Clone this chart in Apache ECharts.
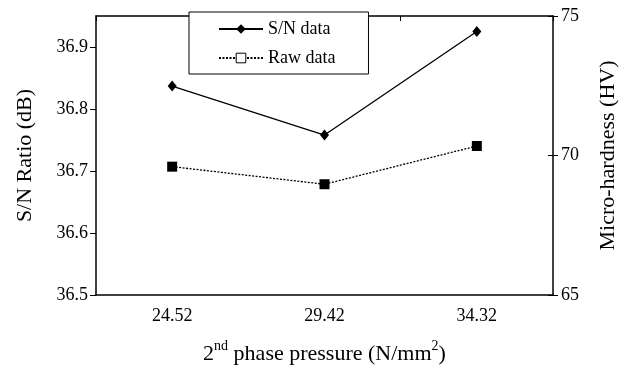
<!DOCTYPE html>
<html>
<head>
<meta charset="utf-8">
<script src="https://cdn.jsdelivr.net/npm/echarts@6/dist/echarts.min.js"></script>
<style>
  html, body { margin: 0; padding: 0; background: #fff; }
  #chart { width: 639px; height: 370px; }
</style>
</head>
<body>
<div id="chart"></div>
<script>
const pressures = ['24.52', '29.42', '34.32'];
const snData = [36.837, 36.758, 36.925];
const rawData = [69.6, 68.97, 70.34];
const leftTicks = [36.5, 36.6, 36.7, 36.8, 36.9];
const rightTicks = [65, 70, 75];

const font = 'Liberation Serif';
const chart = echarts.init(document.getElementById('chart'));

const option = {
  backgroundColor: '#fff',
  animation: false,
  textStyle: { fontFamily: font, color: '#000' },
  grid: { left: 96, right: 86, top: 16, bottom: 62 },
  legend: {
    orient: 'vertical',
    left: 189,
    top: 12,
    padding: [8, 33, 7, 29],
    itemWidth: 44,
    itemHeight: 12,
    itemGap: 11,
    backgroundColor: '#fff',
    borderColor: '#000',
    borderWidth: 1,
    textStyle: { fontFamily: font, fontSize: 18, color: '#000' },
    data: [
      { name: 'S/N data' },
      { name: 'Raw data', itemStyle: { color: '#fff', borderColor: '#000', borderWidth: 1 } }
    ]
  },
  xAxis: [
    {
      type: 'category',
      data: pressures,
      boundaryGap: true,
      axisLine: { lineStyle: { color: '#000', width: 1.5 } },
      axisTick: { show: false },
      axisLabel: { fontFamily: font, fontSize: 18, color: '#000', margin: 12 },
      name: '{b|2}{s|nd}{b| phase pressure (N/mm}{s|2}{b|)}',
      nameLocation: 'middle',
      nameGap: 44,
      nameTextStyle: {
        rich: {
          b: { fontFamily: font, fontSize: 22, color: '#000', verticalAlign: 'bottom', lineHeight: 26 },
          s: { fontFamily: font, fontSize: 14, color: '#000', verticalAlign: 'top', lineHeight: 16 }
        }
      }
    },
    {
      type: 'category',
      data: pressures,
      position: 'top',
      boundaryGap: true,
      axisLine: { lineStyle: { color: '#000', width: 1.5 } },
      axisTick: { show: true, inside: true, length: 5, lineStyle: { color: '#000' } },
      axisLabel: { show: false }
    }
  ],
  yAxis: [
    {
      type: 'value',
      min: 36.5,
      max: 36.95,
      interval: 0.1,
      name: 'S/N Ratio (dB)',
      nameLocation: 'middle',
      nameGap: 60,
      nameTextStyle: { fontFamily: font, fontSize: 22, color: '#000' },
      axisLine: { show: true, lineStyle: { color: '#000', width: 1.5 } },
      axisTick: { show: true, length: 6, customValues: leftTicks, lineStyle: { color: '#000' } },
      axisLabel: {
        fontFamily: font, fontSize: 18, color: '#000', margin: 8,
        customValues: leftTicks,
        formatter: v => v.toFixed(1)
      },
      splitLine: { show: false }
    },
    {
      type: 'value',
      position: 'right',
      min: 65,
      max: 75,
      interval: 5,
      name: 'Micro-hardness (HV)',
      nameLocation: 'middle',
      nameGap: 44,
      nameRotate: 90,
      nameTextStyle: { fontFamily: font, fontSize: 22, color: '#000' },
      axisLine: { show: true, lineStyle: { color: '#000', width: 1.5 } },
      axisTick: { show: true, length: 5, customValues: rightTicks, lineStyle: { color: '#000' } },
      axisLabel: { fontFamily: font, fontSize: 18, color: '#000', margin: 8, customValues: rightTicks },
      splitLine: { show: false }
    },
    {
      type: 'value',
      position: 'right',
      min: 65,
      max: 75,
      interval: 5,
      axisLine: { show: false },
      axisTick: { show: true, inside: true, length: 5, customValues: rightTicks, lineStyle: { color: '#000' } },
      axisLabel: { show: false },
      splitLine: { show: false }
    }
  ],
  series: [
    {
      name: 'S/N data',
      type: 'line',
      yAxisIndex: 0,
      data: snData,
      symbol: 'diamond',
      symbolSize: [9, 11],
      itemStyle: { color: '#000' },
      lineStyle: { color: '#000', width: 1.3, type: 'solid' }
    },
    {
      name: 'Raw data',
      type: 'line',
      yAxisIndex: 1,
      data: rawData,
      symbol: 'rect',
      symbolSize: 10,
      itemStyle: { color: '#000' },
      lineStyle: { color: '#000', width: 1.3, type: [2, 1.5] }
    }
  ]
};

chart.setOption(option);
</script>
</body>
</html>
